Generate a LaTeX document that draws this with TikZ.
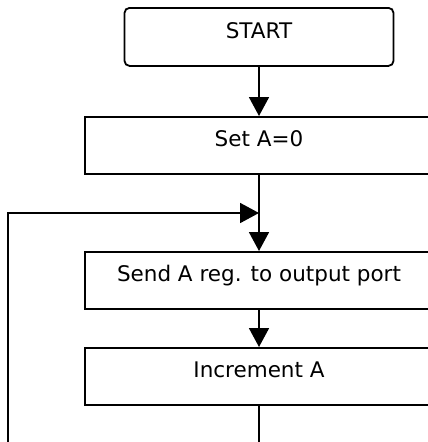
\documentclass[tikz,border=0pt]{standalone}
\usepackage{fontspec}
\setmainfont{DejaVu Sans}
\usetikzlibrary{arrows.meta}
\begin{document}
\begin{tikzpicture}[x=1pt,y=1pt,
  line width=1.8pt,
  every node/.style={font=\fontsize{21.5}{26}\selectfont},
  procbox/.style={draw, rectangle, inner xsep=0pt, inner ysep=0pt,
    text height=30pt, text depth=27pt, minimum width=348pt, anchor=north},
  termbox/.style={draw, rectangle, rounded corners=5pt, inner xsep=0pt, inner ysep=0pt,
    text height=31pt, text depth=27pt, minimum width=269pt, anchor=north},
  flow/.style={-{Triangle[length=19pt,width=20pt]}}]
\useasboundingbox (0,0) rectangle (428,-442);
\clip (0,0) rectangle (428,-442);
\node[termbox] (start) at (259,-7) {START};
\node[procbox] (seta) at (259,-116) {Set A=0};
\node[procbox] (send) at (259,-251) {Send A reg. to output port};
\node[procbox] (inc) at (259,-347) {Increment A};
\coordinate (join) at (259,-213);
\coordinate (incend) at (259,-450);
\coordinate (loopend) at (8,-450);
\coordinate (loopcorner) at (8,-213);
\draw[flow] (start.south) -- (seta.north);
\draw[flow] (seta.south) -- (send.north);
\draw[flow] (send.south) -- (inc.north);
\draw (inc.south) -- (incend);
\draw[flow] (loopend) -- (loopcorner) -- (join);
\end{tikzpicture}
\end{document}
